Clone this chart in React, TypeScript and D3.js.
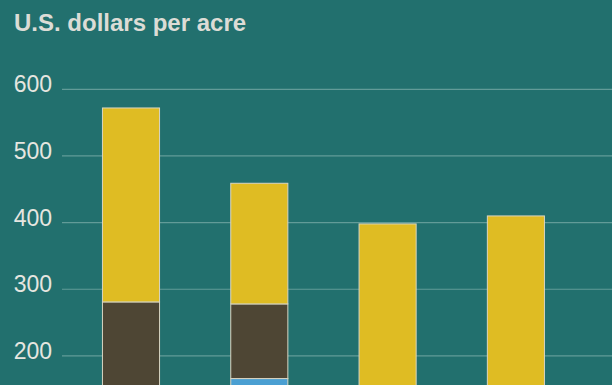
import React from "react";
import * as d3 from "d3";

const categories = ["Bar 1", "Bar 2", "Bar 3", "Bar 4"];
const seriesNames = ["Blue", "Dark", "Yellow"];
const blueValues = [0, 166, 0, 0];
const darkValues = [281, 112, 0, 0];
const yellowValues = [291, 181, 398, 410];
const yTicks = [200, 300, 400, 500, 600];
const colors = ["#4a9fd2", "#4e4634", "#dfbc23"];

const W = 612;
const H = 385;

export default function App() {
  const y = d3.scaleLinear().domain([200, 600]).range([355.9, 89.3]);
  const x = d3
    .scaleBand<string>()
    .domain(categories)
    .range([66.85, 66.85 + 4 * 128.3])
    .paddingInner(0.555)
    .paddingOuter(0.2775);

  const rows = categories.map((c, i) => ({
    cat: c,
    Blue: blueValues[i],
    Dark: darkValues[i],
    Yellow: yellowValues[i],
  }));
  const stack = d3.stack<any>().keys(seriesNames)(rows);

  return (
    <svg
      width={W}
      height={H}
      style={{ position: "absolute", left: 0, top: 0, display: "block", background: "#22706e", overflow: "hidden" }}
      fontFamily="'Liberation Sans', Arial, Helvetica, sans-serif"
    >
      <rect x={0} y={0} width={W} height={H} fill="#22706e" />
      <text x={14} y={31} fontSize={24} fontWeight={700} fill="#dcdcd6">
        U.S. dollars per acre
      </text>
      {yTicks.map((t) => (
        <g key={t}>
          <line x1={62} x2={W} y1={y(t)} y2={y(t)} stroke="#629b98" strokeWidth={1.2} />
          <text x={52} y={y(t) + 3} fontSize={23} textAnchor="end" fill="#e6e6e0">
            {t}
          </text>
        </g>
      ))}
      {stack.map((layer, li) =>
        layer.map((d, i) => {
          const v0 = d[0];
          const v1 = d[1];
          if (v1 - v0 <= 0) return null;
          const top = y(v1);
          const bottom = y(v0);
          return (
            <rect
              key={`${li}-${i}`}
              x={x(categories[i])!}
              y={top}
              width={x.bandwidth()}
              height={bottom - top}
              fill={colors[li]}
              stroke="#d9d5c2"
              strokeWidth={1}
            />
          );
        })
      )}
    </svg>
  );
}
